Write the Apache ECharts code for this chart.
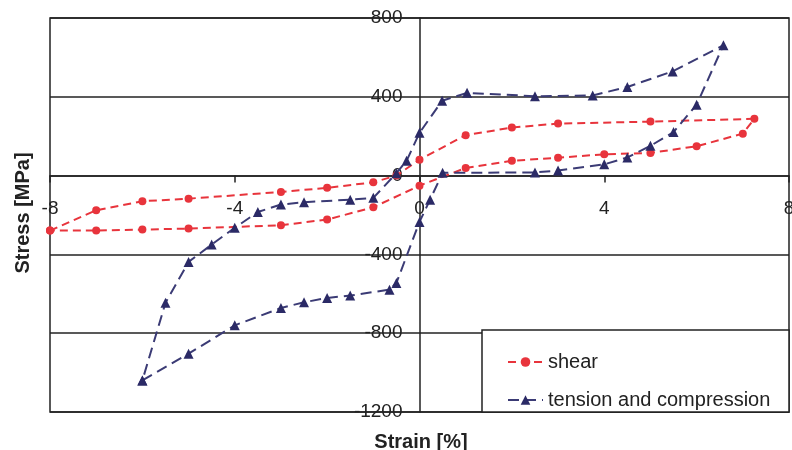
<!DOCTYPE html>
<html><head><meta charset="utf-8">
<script src="https://cdn.jsdelivr.net/npm/echarts@6/dist/echarts.min.js"></script>
<style>html,body{margin:0;padding:0;background:#fff}#c{width:792px;height:450px}</style>
</head><body><div id="c"></div>
<script>
// Shear loop (strain %, stress MPa), in path order
const shearStrain = [-8, -7, -6, -5, -3, -2, -1, -0.5, 0, 1, 2, 3, 5, 7.25, 7.0, 6.0, 5.0, 4.0, 3.0, 2.0, 1.0, 0, -1, -2, -3, -5, -6, -7, -8];
const shearStress = [-279, -176, -130, -117, -83, -62, -34, 0, 81, 205, 244, 264, 274, 288, 213, 149, 115, 108, 91, 75, 39, -51, -161, -223, -252, -269, -274, -279, -279];
// Tension and compression loop, in path order
const tcStrain = [-6, -5, -4, -3, -2.5, -2, -1.5, -0.65, -0.5, 0, 0.23, 0.5, 2.5, 3.0, 4.0, 4.5, 5.0, 5.5, 6.0, 6.58, 5.48, 4.5, 3.75, 2.5, 1.03, 0.49, 0, -0.28, -0.5, -1, -1.5, -2.5, -3, -3.5, -4, -4.5, -5, -5.5, -6];
const tcStress = [-1040, -904, -760, -672, -643, -621, -609, -579, -545, -235, -122, 14, 16, 26, 57, 92, 151, 221, 360, 662, 529, 450, 407, 403, 420, 380, 217, 75, 12, -113, -122, -135, -147, -185, -265, -350, -438, -646, -1040];
const seriesNames = ['shear', 'tension and compression'];
const xTicks = {min: -8, max: 8, step: 4};
const yTicks = {min: -1200, max: 800, step: 400};

const zip = (a, b) => a.map((v, i) => [v, b[i]]);
const FONT = "'Liberation Sans', Arial, sans-serif";
const G = {left: 50, right: 3, top: 18, bottom: 38};
const W = 792, H = 450;
const plotW = W - G.left - G.right, plotH = H - G.top - G.bottom;
// offsets so that the axes (with their labels) sit on the zero lines
const yAxisOffset = -plotW * (0 - xTicks.min) / (xTicks.max - xTicks.min);
const xAxisOffset = -plotH * (0 - yTicks.min) / (yTicks.max - yTicks.min);

const chart = echarts.init(document.getElementById('c'), null, {renderer: 'canvas'});
chart.setOption({
  animation: false,
  backgroundColor: '#ffffff',
  textStyle: {fontFamily: FONT},
  grid: {left: G.left, right: G.right, top: G.top, bottom: G.bottom, show: true, borderColor: '#222', borderWidth: 1.5, containLabel: false, outerBoundsMode: 'none'},
  xAxis: {
    type: 'value', min: xTicks.min, max: xTicks.max, interval: xTicks.step,
    position: 'bottom', offset: xAxisOffset,
    axisLine: {onZero: false, lineStyle: {color: '#222', width: 1.5}},
    axisTick: {show: true, length: 7, lineStyle: {color: '#222', width: 1.5}},
    axisLabel: {margin: 24, fontSize: 19, color: '#222', fontFamily: FONT, formatter: v => String(v)},
    splitLine: {show: false}
  },
  yAxis: {
    type: 'value', min: yTicks.min, max: yTicks.max, interval: yTicks.step,
    position: 'left', offset: yAxisOffset,
    axisLine: {onZero: false, lineStyle: {color: '#222', width: 1.5}},
    axisTick: {show: false},
    axisLabel: {margin: 17, fontSize: 19, color: '#222', fontFamily: FONT, formatter: v => String(v)},
    splitLine: {show: true, lineStyle: {color: '#222', width: 1.5}}
  },
  legend: {
    left: 502, top: 347, orient: 'vertical', itemWidth: 35, itemHeight: 12, itemGap: 18,
    textStyle: {fontSize: 20, color: '#222', fontFamily: FONT},
    data: seriesNames, z: 20
  },
  graphic: [
    {type: 'rect', z: 10, shape: {x: 482, y: 330, width: 307, height: 82}, style: {fill: '#fff', stroke: '#222', lineWidth: 1.5}},
    {type: 'text', z: 10, x: 421, y: 442, style: {text: 'Strain [%]', font: "bold 20px " + FONT, fill: '#222', textAlign: 'center', textVerticalAlign: 'middle'}},
    {type: 'text', z: 10, x: 23, y: 213, rotation: Math.PI / 2, style: {text: 'Stress [MPa]', font: "bold 20px " + FONT, fill: '#222', textAlign: 'center', textVerticalAlign: 'middle'}}
  ],
  series: [
    {
      name: seriesNames[0], type: 'line', data: zip(shearStrain, shearStress),
      symbol: 'circle', symbolSize: 8, showAllSymbol: true,
      lineStyle: {color: '#e8343c', width: 2, type: [8, 5]},
      itemStyle: {color: '#e8343c'}
    },
    {
      name: seriesNames[1], type: 'line', data: zip(tcStrain, tcStress),
      symbol: 'triangle', symbolSize: 10, showAllSymbol: true,
      lineStyle: {color: '#3b3b75', width: 2, type: [11, 6]},
      itemStyle: {color: '#2b2a66'}
    }
  ]
});
</script></body></html>
